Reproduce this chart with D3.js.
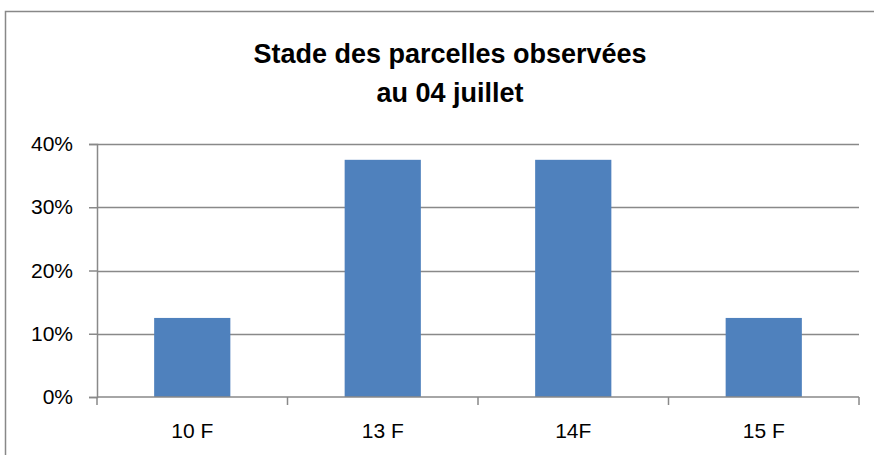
<!DOCTYPE html>
<html>
<head>
<meta charset="utf-8">
<script src="https://cdn.jsdelivr.net/npm/d3@7"></script>
<style>
  html, body { margin: 0; background: #fff; overflow: hidden; }
  svg { display: block; font-family: "Liberation Sans", Arial, sans-serif; }
</style>
</head>
<body>
<div id="chart"></div>
<script>
var categories = ['10 F', '13 F', '14F', '15 F'];
var values = [0.125, 0.375, 0.375, 0.125];
var yTicks = [0, 0.1, 0.2, 0.3, 0.4];
var titleLines = ['Stade des parcelles observées', 'au 04 juillet'];

var width = 874, height = 455;
var margin = {top: 144, right: 15, bottom: 58, left: 97};

var svg = d3.select('#chart').append('svg')
  .attr('width', width)
  .attr('height', height);

// outer chart frame: only the top and left sides are inside the picture
svg.append('path')
  .attr('d', 'M5.5,' + height + 'V11.5H' + width)
  .attr('fill', 'none')
  .attr('stroke', '#888')
  .attr('stroke-width', 1.5);

svg.append('text')
  .attr('x', 450)
  .attr('text-anchor', 'middle')
  .style('font-weight', 'bold')
  .style('font-size', '27px')
  .selectAll('tspan')
  .data(titleLines)
  .enter().append('tspan')
  .attr('x', 450)
  .attr('y', function(d, i) { return 63 + i * 39; })
  .text(function(d) { return d; });

var x = d3.scaleBand()
  .domain(categories)
  .range([margin.left, width - margin.right])
  .paddingInner(0.6)
  .paddingOuter(0.3);

var y = d3.scaleLinear()
  .domain([0, 0.4])
  .range([height - margin.bottom, margin.top]);

// gridlines
svg.append('g')
  .selectAll('line')
  .data(yTicks.slice(1))
  .enter().append('line')
  .attr('x1', margin.left)
  .attr('x2', width - margin.right)
  .attr('y1', function(d) { return Math.round(y(d)) + 0.5; })
  .attr('y2', function(d) { return Math.round(y(d)) + 0.5; })
  .attr('stroke', '#898989')
  .attr('stroke-width', 1.5);

svg.append('g')
  .selectAll('rect')
  .data(values)
  .enter().append('rect')
  .attr('x', function(d, i) { return x(categories[i]); })
  .attr('y', function(d) { return y(d); })
  .attr('width', x.bandwidth())
  .attr('height', function(d) { return y(0) - y(d); })
  .attr('fill', '#4f81bd');

var yAxis = svg.append('g')
  .attr('transform', 'translate(' + margin.left + ',0)')
  .call(d3.axisLeft(y).tickValues(yTicks).tickFormat(d3.format('.0%')).tickSize(8).tickPadding(16));

var xAxis = svg.append('g')
  .attr('transform', 'translate(0,' + y(0) + ')')
  .call(d3.axisBottom(x).tickSize(0).tickPadding(26));

// category separators on x axis
var step = x.step();
svg.append('g')
  .selectAll('line')
  .data(d3.range(categories.length + 1))
  .enter().append('line')
  .attr('x1', function(i) { return margin.left + i * step; })
  .attr('x2', function(i) { return margin.left + i * step; })
  .attr('y1', y(0))
  .attr('y2', y(0) + 8)
  .attr('stroke', '#898989')
  .attr('stroke-width', 1.5);

[yAxis, xAxis].forEach(function(g) {
  g.selectAll('path, line').attr('stroke', '#898989').attr('stroke-width', 1.5);
  g.selectAll('text')
    .attr('fill', '#000')
    .style('font-size', '21px')
    .style('font-family', '"Liberation Sans", Arial, sans-serif');
});
xAxis.select('.domain').attr('d', 'M' + margin.left + ',0H' + (width - margin.right));
</script>
</body>
</html>
